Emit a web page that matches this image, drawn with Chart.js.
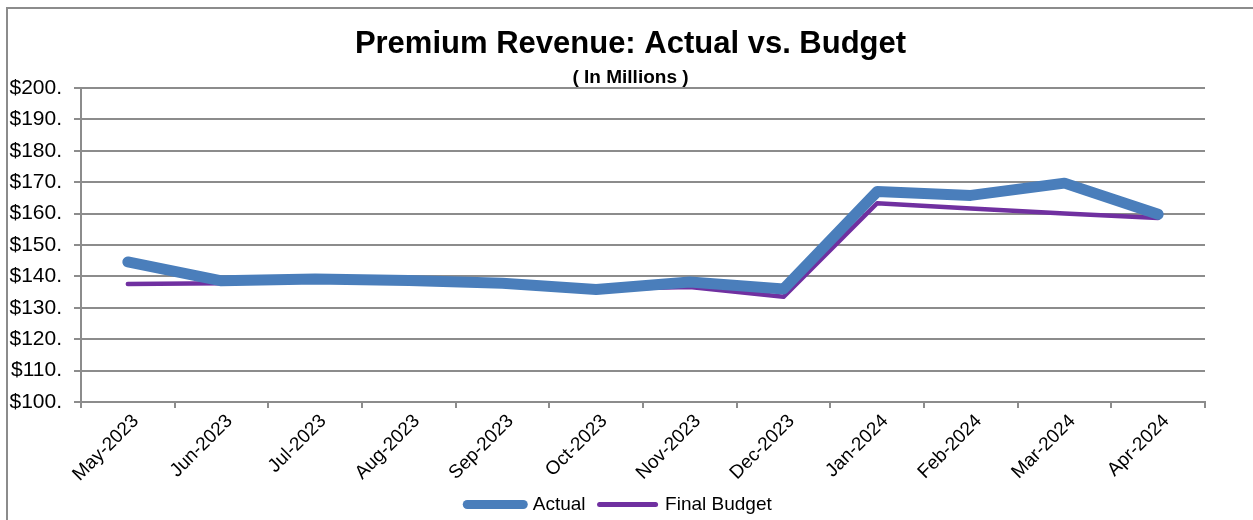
<!DOCTYPE html>
<html>
<head>
<meta charset="utf-8">
<script src="https://cdn.jsdelivr.net/npm/chart.js@4/dist/chart.umd.min.js"></script>
<style>
  html, body { margin: 0; padding: 0; background: #fff; }
  #wrap { width: 1253px; height: 520px; position: relative; }
</style>
</head>
<body>
<div id="wrap"><canvas id="myChart" width="1253" height="520"></canvas></div>
<script>
const months = ["May-2023", "Jun-2023", "Jul-2023", "Aug-2023", "Sep-2023", "Oct-2023",
                "Nov-2023", "Dec-2023", "Jan-2024", "Feb-2024", "Mar-2024", "Apr-2024"];
const actual = [144.6, 138.6, 139.2, 138.7, 137.8, 135.8, 138.2, 136.0, 167.0, 165.8, 169.7, 159.8];
const finalBudget = [137.6, 137.8, 138.9, 138.4, 137.5, 136.0, 136.6, 133.5, 163.3, 161.6, 160.0, 158.6];

const font = "'Liberation Sans', Arial, sans-serif";
const grey = '#8c8c8c';

// outer frame (top and left edge only, like the source)
const framePlugin = {
    id: 'frame',
    beforeDraw(chart) {
        const c = chart.ctx;
        c.save();
        c.strokeStyle = grey;
        c.lineWidth = 2;
        c.beginPath();
        c.moveTo(7, 520);
        c.lineTo(7, 8);
        c.lineTo(1253, 8);
        c.stroke();
        c.restore();
    }
};

// title block and legend sit centred on the whole frame, not on the plot
const shiftPlugin = {
    id: 'shift',
    afterLayout(chart) {
        chart.boxes.forEach(b => {
            let dx = 0;
            if (b === chart.legend) dx = 13;
            else if (b.options && typeof b.options.text === 'string') dx = 24;
            b.left += dx;
            b.right += dx;
        });
    }
};

let ctx = document.getElementById('myChart').getContext('2d');
let chart = new Chart(ctx, {
    type: 'line',
    data: {
        labels: months,
        datasets: [
            { label: 'Actual', data: actual, borderColor: '#4a7ebb', backgroundColor: '#4a7ebb',
              borderWidth: 11, borderCapStyle: 'round', borderJoinStyle: 'round', pointRadius: 0, tension: 0 },
            { label: 'Final Budget', data: finalBudget, borderColor: '#7030a0', backgroundColor: '#7030a0',
              borderWidth: 4.5, borderCapStyle: 'round', borderJoinStyle: 'round', pointRadius: 0, tension: 0 }
        ]
    },
    options: {
        responsive: false,
        animation: false,
        layout: { padding: { left: 8, right: 48, top: 0, bottom: -4 } },
        plugins: {
            title: {
                display: true,
                text: 'Premium Revenue: Actual vs. Budget',
                color: '#000',
                font: { family: font, size: 31, weight: 'bold', lineHeight: 1 },
                padding: { top: 29, bottom: 0 }
            },
            subtitle: {
                display: true,
                text: '( In Millions )',
                color: '#000',
                font: { family: font, size: 19, weight: 'bold', lineHeight: 1 },
                padding: { top: 8, bottom: 1 }
            },
            legend: {
                position: 'bottom',
                labels: {
                    color: '#000',
                    font: { family: font, size: 19 },
                    usePointStyle: true,
                    pointStyle: 'line',
                    pointStyleWidth: 56,
                    padding: 14,
                    generateLabels(ch) {
                        const items = Chart.defaults.plugins.legend.labels.generateLabels(ch);
                        items.forEach((it, i) => { it.lineWidth = i === 0 ? 9 : 5; it.lineCap = 'round'; });
                        return items;
                    }
                }
            },
            tooltip: { enabled: false }
        },
        scales: {
            x: {
                offset: true,
                grid: { offset: true, drawOnChartArea: false, color: grey, lineWidth: 2, tickLength: 6 },
                border: { color: grey, width: 2 },
                ticks: { color: '#000', font: { family: font, size: 19 }, minRotation: 45, maxRotation: 45,
                         padding: 2, labelOffset: 8 },
                afterFit(scale) { scale.height = 79; }
            },
            y: {
                min: 100,
                max: 200,
                ticks: { stepSize: 10, color: '#000', font: { family: font, size: 21 }, padding: 12,
                         callback: v => '$' + v + '.' },
                grid: { color: grey, lineWidth: 2, tickLength: 7 },
                border: { color: grey, width: 2 },
                afterFit(scale) { scale.width = 73; }
            }
        }
    },
    plugins: [framePlugin, shiftPlugin]
});
</script>
</body>
</html>
